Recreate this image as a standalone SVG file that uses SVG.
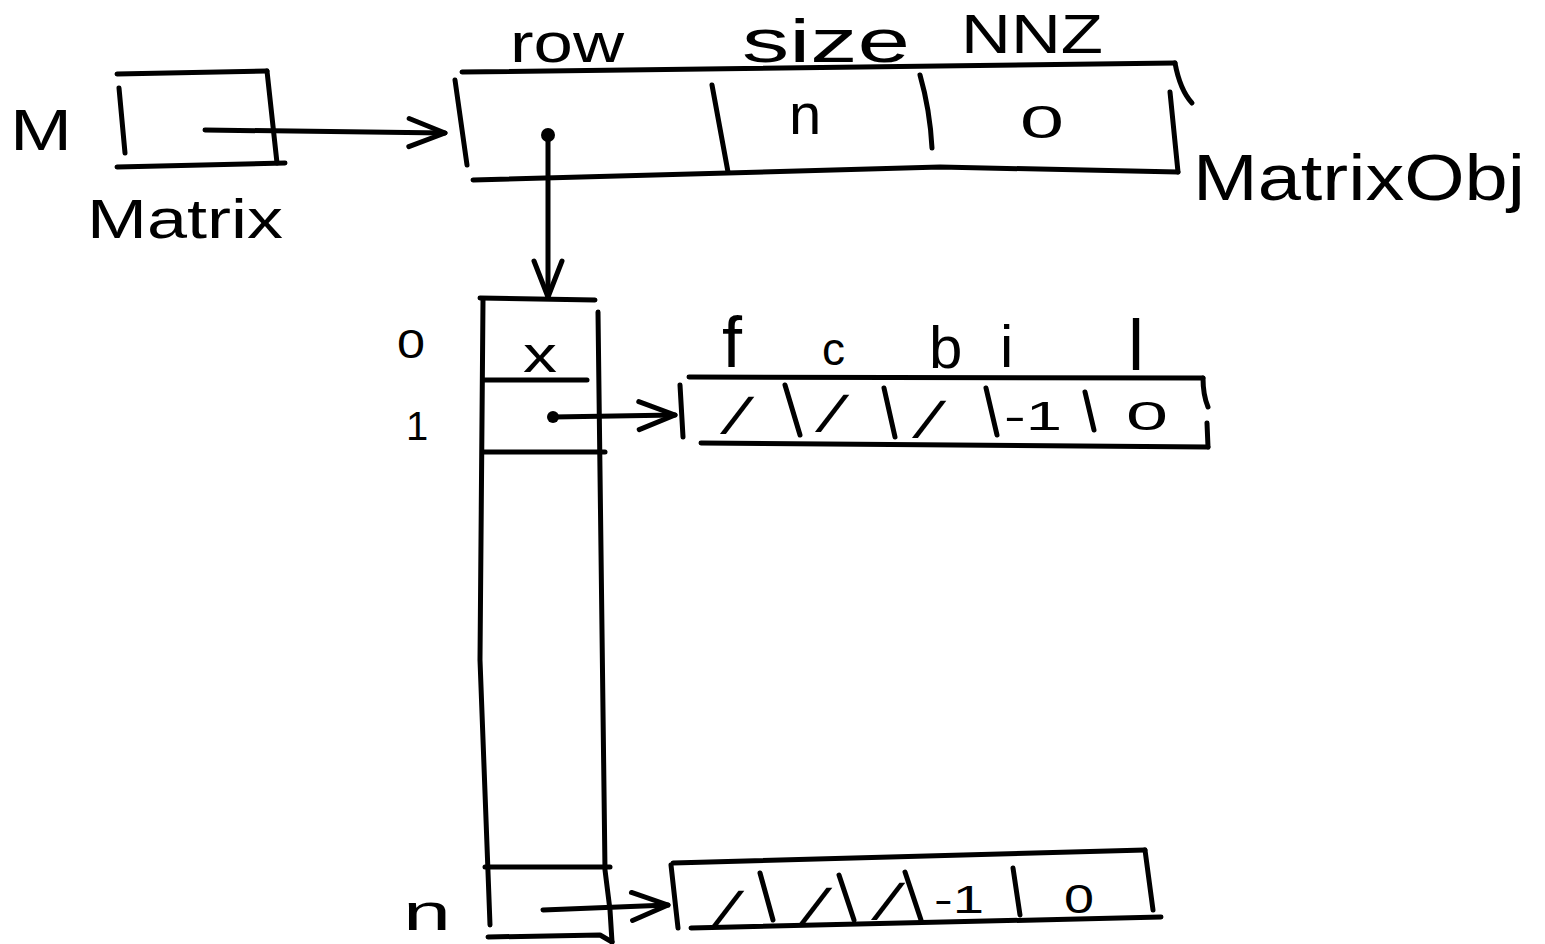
<svg xmlns="http://www.w3.org/2000/svg" width="1545" height="944" viewBox="0 0 1545 944">
<style>
.ln{stroke:#000;stroke-width:5;fill:none;stroke-linecap:round;stroke-linejoin:round}
.t{font-family:"Liberation Sans",Arial,sans-serif;fill:#000}
.v{font-family:"Liberation Sans",Arial,sans-serif;fill:#000;font-size:50px;font-weight:bold}
.dot{fill:#000}
</style>
<defs>
<marker id="ah" markerUnits="userSpaceOnUse" viewBox="0 0 50 40" markerWidth="50" markerHeight="40" refX="42" refY="18" orient="auto">
<path d="M6,4 L42,18 L6,32" fill="none" stroke="#000" stroke-width="5" stroke-linecap="round" stroke-linejoin="round"/>
</marker>
</defs>
<rect width="1545" height="944" fill="#fff"/>

<g id="matrix-var">
<path class="ln" d="M117,74 L267,71"/>
<path class="ln" d="M119,88 L125,153"/>
<path class="ln" d="M267,71 L277,163"/>
<path class="ln" d="M117,167 L285,163"/>
<text class="t" x="10" y="150" font-size="58" textLength="62" lengthAdjust="spacingAndGlyphs">M</text>
<text class="t" x="87" y="238" font-size="56" textLength="196" lengthAdjust="spacingAndGlyphs">Matrix</text>
</g>

<g id="matrix-obj">
<path class="ln" d="M462,72 L1175,63"/>
<path class="ln" d="M455,80 L467,165"/>
<path class="ln" d="M473,180 L940,167 L1178,172"/>
<path class="ln" d="M1175,63 Q1180,90 1192,103"/>
<path class="ln" d="M1170,92 L1178,172"/>
<path class="ln" d="M712,85 L728,172"/>
<path class="ln" d="M920,75 Q930,110 932,148"/>
<text class="t" x="510" y="62" font-size="56" textLength="114" lengthAdjust="spacingAndGlyphs">row</text>
<text class="t" x="742" y="62" font-size="62" textLength="168" lengthAdjust="spacingAndGlyphs">size</text>
<text class="t" x="961" y="53" font-size="56" textLength="142" lengthAdjust="spacingAndGlyphs">NNZ</text>
<text class="t" x="789" y="134" font-size="58">n</text>
<text class="t" x="1020" y="138" font-size="46" textLength="44" lengthAdjust="spacingAndGlyphs">0</text>
<text class="t" x="1193" y="200" font-size="64" textLength="332" lengthAdjust="spacingAndGlyphs">MatrixObj</text>
</g>

<g id="rows-array">
<path class="ln" d="M480,298 L595,300"/>
<path class="ln" d="M483,300 L480,660 L490,925"/>
<path class="ln" d="M598,312 L605,870 L610,910 L612,942"/>
<path class="ln" d="M483,380 L587,380"/>
<path class="ln" d="M483,452 L605,452"/>
<path class="ln" d="M485,867 L610,867"/>
<path class="ln" d="M488,937 L600,935 L612,942"/>
<text class="t" x="523" y="372" font-size="50" textLength="34" lengthAdjust="spacingAndGlyphs">x</text>
<text class="t" x="397" y="358" font-size="40" textLength="28" lengthAdjust="spacingAndGlyphs">0</text>
<text class="t" x="406" y="440" font-size="40">1</text>
<text class="t" x="403" y="930" font-size="52" textLength="48" lengthAdjust="spacingAndGlyphs">n</text>
</g>

<g id="row1-array">
<path class="ln" d="M689,377 L1203,378"/>
<path class="ln" d="M680,385 L683,437"/>
<path class="ln" d="M701,443 L1208,447"/>
<path class="ln" d="M1203,378 Q1203,395 1208,407"/>
<path class="ln" d="M1207,423 L1208,447"/>
<path class="ln" d="M785,385 L800,435"/>
<path class="ln" d="M884,388 L895,437"/>
<path class="ln" d="M986,388 L997,435"/>
<path class="ln" d="M1085,392 L1094,430"/>
<text class="v" transform="translate(720,433) skewX(-30)">/</text>
<text class="v" transform="translate(815,431) skewX(-30)">/</text>
<text class="v" transform="translate(912,437) skewX(-30)">/</text>
<text class="t" x="1004" y="430" font-size="40" textLength="58" lengthAdjust="spacingAndGlyphs">-1</text>
<text class="t" x="1126" y="430" font-size="40" textLength="42" lengthAdjust="spacingAndGlyphs">0</text>
<text class="t" x="722" y="367" font-size="72">f</text>
<text class="t" x="822" y="365" font-size="46">c</text>
<text class="t" x="929" y="368" font-size="60">b</text>
<text class="t" x="1000" y="367" font-size="60">i</text>
<text class="t" x="1128" y="370" font-size="72">l</text>
</g>

<g id="rown-array">
<path class="ln" d="M673,863 L1145,850"/>
<path class="ln" d="M671,865 L678,928"/>
<path class="ln" d="M691,928 L1161,917"/>
<path class="ln" d="M1145,850 L1153,910"/>
<path class="ln" d="M760,873 L773,920"/>
<path class="ln" d="M839,875 L854,920"/>
<path class="ln" d="M905,872 L921,920"/>
<path class="ln" d="M1013,868 L1020,915"/>
<text class="v" transform="translate(710,927) skewX(-30)">/</text>
<text class="v" transform="translate(798,924) skewX(-30)">/</text>
<text class="v" transform="translate(871,919) skewX(-30)">/</text>
<text class="t" x="934" y="913" font-size="38" textLength="50" lengthAdjust="spacingAndGlyphs">-1</text>
<text class="t" x="1064" y="913" font-size="40" textLength="30" lengthAdjust="spacingAndGlyphs">0</text>
</g>

<g id="connectors">
<path class="ln" d="M205,130 L445,133" marker-end="url(#ah)"/>
<circle class="dot" cx="548" cy="135" r="7"/>
<path class="ln" d="M548,135 L548,297" marker-end="url(#ah)"/>
<circle class="dot" cx="553" cy="417" r="6"/>
<path class="ln" d="M553,417 L675,415" marker-end="url(#ah)"/>
<path class="ln" d="M543,910 L668,905" marker-end="url(#ah)"/>
</g>
</svg>
